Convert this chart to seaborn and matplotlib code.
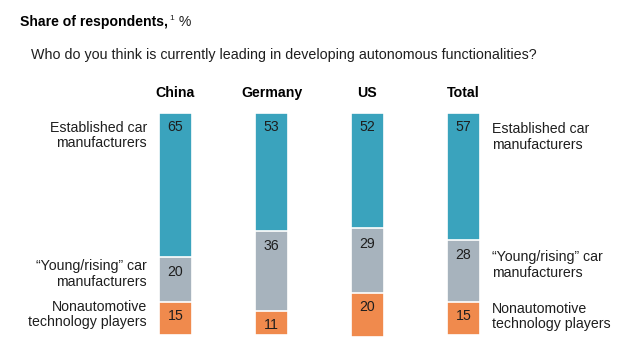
import matplotlib
matplotlib.use('Agg')
import matplotlib.pyplot as plt
import numpy as np
import pandas as pd
import seaborn as sns

# data
countries = ["China", "Germany", "US", "Total"]
established = [65, 53, 52, 57]
young_rising = [20, 36, 29, 28]
nonautomotive = [15, 11, 20, 15]

teal = "#3aa3bd"
gray = "#a7b3bd"
orange = "#f08a4d"
txt = "#1e1e1e"

sns.set_theme(style="white")
plt.rcParams['font.family'] = ['Liberation Sans', 'DejaVu Sans']

df = pd.DataFrame({"country": countries,
                   "established": established,
                   "young": young_rising,
                   "nonauto": nonautomotive})
df["cum1"] = df["established"]
df["cum2"] = df["established"] + df["young"]
df["cum3"] = df["cum2"] + df["nonauto"]

fig = plt.figure(figsize=(6.4, 3.52), dpi=100)
ax = fig.add_axes([0, 0, 1, 1])

# stacked from the top: draw the longest first, then overlay
for col, c in [("cum3", orange), ("cum2", gray), ("cum1", teal)]:
    sns.barplot(data=df, x="country", y=col, color=c, width=0.34,
                edgecolor="white", linewidth=1.2, ax=ax, saturation=1)

# pixel mapping: bar centre 0 at 175.5px, 96px apart; top at 113px, 2.22px per %
ax.set_xlim(-175.5 / 96, (640 - 175.5) / 96)
ax.set_ylim((352 - 113) / 2.22, -113 / 2.22)
ax.axis("off")

fs = 10.2
for i, row in df.iterrows():
    ax.text(i, 6.3, str(row["established"]), ha="center", va="center", fontsize=fs, color=txt)
    ax.text(i, row["cum1"] + 6.8, str(row["young"]), ha="center", va="center", fontsize=fs, color=txt)
    ax.text(i, row["cum2"] + 6.3, str(row["nonauto"]), ha="center", va="center", fontsize=fs, color=txt)
    ax.text(i, -9, row["country"], ha="center", va="center", fontsize=fs, fontweight="bold", color="black")

left_labels = [("Established car\nmanufacturers", 10.1),
               ("\u201cYoung/rising\u201d car\nmanufacturers", 72.5),
               ("Nonautomotive\ntechnology players", 90.8)]
right_labels = [("Established car\nmanufacturers", 10.8),
                ("\u201cYoung/rising\u201d car\nmanufacturers", 68.5),
                ("Nonautomotive\ntechnology players", 91.7)]
for s, y in left_labels:
    ax.text(-0.297, y, s, ha="right", va="center", fontsize=fs, color=txt, linespacing=1.12)
for s, y in right_labels:
    ax.text(3.297, y, s, ha="left", va="center", fontsize=fs, color=txt, linespacing=1.12)

# title with superscript footnote
renderer = fig.canvas.get_renderer()
t1 = fig.text(20 / 640, 1 - 22 / 352, "Share of respondents,", fontsize=10.1,
              fontweight="bold", va="center", color="black")
bb = t1.get_window_extent(renderer)
t2 = fig.text(bb.x1 / 640 + 0.002, 1 - 18 / 352, "1", fontsize=6, va="center", color=txt)
bb2 = t2.get_window_extent(renderer)
fig.text(bb2.x1 / 640 + 0.001, 1 - 22 / 352, " %", fontsize=10.1, va="center", color=txt)

fig.text(31 / 640, 1 - 55 / 352,
         "Who do you think is currently leading in developing autonomous functionalities?",
         fontsize=10.3, va="center", color=txt)

plt.savefig("out.png", dpi=100)
